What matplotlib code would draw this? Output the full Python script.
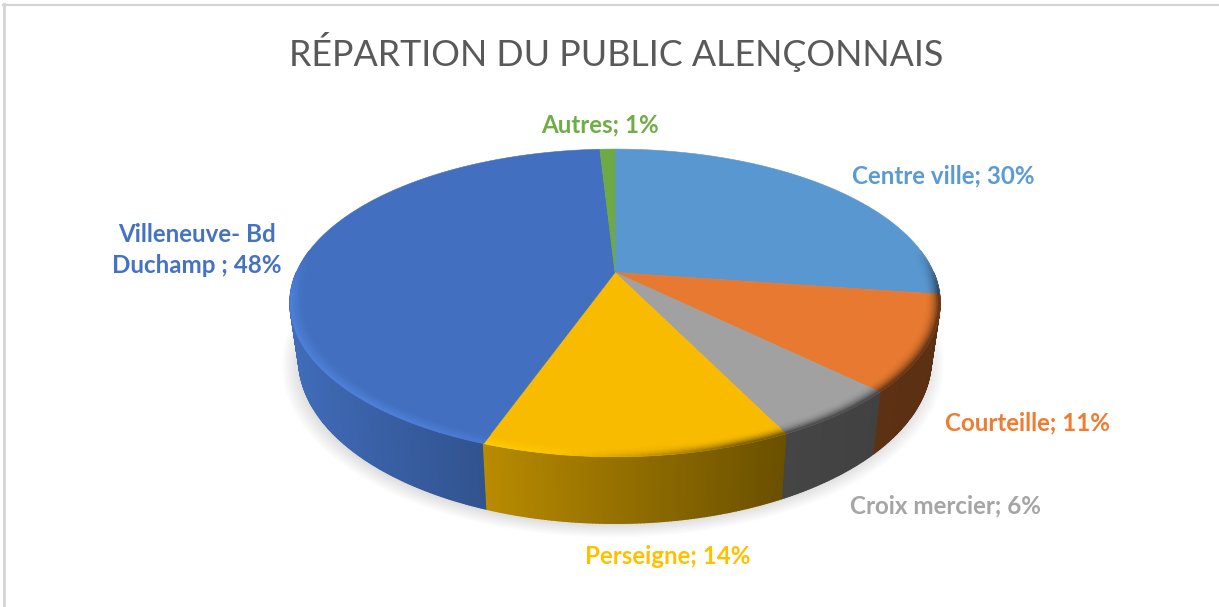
import numpy as np
import matplotlib
matplotlib.use("Agg")
import matplotlib.pyplot as plt
from matplotlib.collections import PolyCollection
from matplotlib.colors import to_rgb

title = "RÉPARTION DU PUBLIC ALENÇONNAIS"
categories = ["Centre ville", "Courteille", "Croix mercier", "Perseigne", "Villeneuve- Bd\nDuchamp ", "Autres"]
values = [30, 11, 6, 14, 48, 1]
colors = ["#5B9BD5", "#ED7D31", "#A5A5A5", "#FFC000", "#4472C4", "#70AD47"]
label_pos = [(943, 176), (1027, 423), (945, 506), (668, 557), (197, 250), (600, 125)]

FONT = "Lato"
C = -0.1974
CX = 615.0
TOP = dict(R=318.6, a=94.0, b=272.5)
BOT = dict(R=310.0, a=93.0, b=327.0)
FACE = 0.975

def project(th, r, g):
    u, v = r * np.sin(th), -r * np.cos(th)
    d = 1 + C * v
    return CX + g["R"] * u / d, (g["a"] * v + g["b"]) / d

def shade(x):
    return np.interp(x, [295, 487, 780, 940], [0.94, 0.72, 0.42, 0.38])

fig = plt.figure(figsize=(12.19, 6.07), dpi=100)
ax = fig.add_axes([0, 0, 1, 1])
ax.set_xlim(0, 1219)
ax.set_ylim(607, 0)
ax.axis("off")

ax.plot([3, 1219], [4.5, 4.5], color="#d4d4d4", lw=1.6, zorder=1)
ax.plot([4, 4], [4, 607], color="#d4d4d4", lw=2.0, zorder=1)

# soft drop shadow
full = np.linspace(0, 2 * np.pi, 361)
for k in np.linspace(1.045, 0.99, 12):
    px, py = project(full, k, BOT)
    ax.fill(px - 2, py + 3, color="black", alpha=0.013, lw=0, zorder=2)

# slices
vals = np.array(values, float)
edges = np.concatenate([[0], np.cumsum(vals)]) / vals.sum() * 2 * np.pi

wall_polys, wall_cols, wall_key = [], [], []
for i, col in enumerate(colors):
    base = np.array(to_rgb(col))
    n = max(int(np.degrees(edges[i + 1] - edges[i])) * 2, 2)
    ts = np.linspace(edges[i], edges[i + 1], n + 1)
    for t0, t1 in zip(ts[:-1], ts[1:]):
        key = -np.cos((t0 + t1) / 2)
        if key < 0.0:
            continue
        a0, b0 = project(t0, 1, TOP)
        a1, b1 = project(t1, 1, TOP)
        c0, d0 = project(t0, 1, BOT)
        c1, d1 = project(t1, 1, BOT)
        wall_polys.append([(a0, b0), (a1, b1), (c1, d1), (c0, d0)])
        wall_cols.append(base * shade((a0 + a1) / 2))
        wall_key.append(key)
order = np.argsort(wall_key)
ax.add_collection(PolyCollection([wall_polys[j] for j in order],
                                 facecolors=[wall_cols[j] for j in order],
                                 edgecolors="face", linewidths=1.0, zorder=3))

for i, col in enumerate(colors):
    ts = np.linspace(edges[i], edges[i + 1], 200)
    px, py = project(ts, 1, TOP)
    ax.fill(np.r_[CX, px], np.r_[TOP["b"], py], color=np.array(to_rgb(col)) * FACE, lw=0.4, zorder=4)

# bevel along the front rim
rings = np.linspace(0.955, 1.0, 10)
bp, bc = [], []
for i, col in enumerate(colors):
    base = np.array(to_rgb(col)) * FACE
    n = max(int(np.degrees(edges[i + 1] - edges[i])), 2)
    ts = np.linspace(edges[i], edges[i + 1], n + 1)
    for t0, t1 in zip(ts[:-1], ts[1:]):
        tm = (t0 + t1) / 2
        vis = np.clip((-np.cos(tm) + 0.15) / 0.3, 0, 1)
        if vis == 0:
            continue
        xm = project(tm, 1, TOP)[0]
        light = np.clip((640 - xm) / 250, 0, 1)
        dark = np.clip((xm - 560) / 180, 0, 1)
        for j, (r0, r1) in enumerate(zip(rings[:-1], rings[1:])):
            s = (j + 0.5) / (len(rings) - 1)
            hi = s ** 1.5
            c = base + (np.minimum(base * 1.12 + 0.02, 1) - base) * hi * light
            wall = base * shade(xm) / FACE
            c = c + (wall - c) * dark * s ** 2.2
            c = base + (c - base) * vis
            pts = [project(t0, r0, TOP), project(t1, r0, TOP),
                   project(t1, r1, TOP), project(t0, r1, TOP)]
            bp.append(pts)
            bc.append(c)
ax.add_collection(PolyCollection(bp, facecolors=bc, edgecolors="face", linewidths=0.6, zorder=5))

ax.text(616, 52, title, ha="center", va="center", fontsize=25.8, color="#595959", family=FONT, zorder=6)
for cat, val, col, (lx, ly) in zip(categories, values, colors, label_pos):
    ax.text(lx, ly, f"{cat}; {val}%", ha="center", va="center", fontsize=17.4, fontweight="bold",
            color=col, family=FONT, linespacing=1.4, zorder=6)

fig.savefig("out.png", dpi=100)
